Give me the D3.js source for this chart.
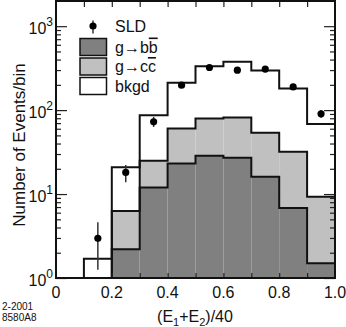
<!DOCTYPE html>
<html>
<head>
<meta charset="utf-8">
<script src="https://cdn.jsdelivr.net/npm/d3@7"></script>
<style>
  html, body { margin: 0; padding: 0; background: #fff; }
  svg { display: block; font-family: "Liberation Sans", Arial, Helvetica, sans-serif; }
</style>
</head>
<body>
<svg id="chart" width="346" height="327"></svg>
<script>
// ---- data ----
const binEdges = [0.1, 0.2, 0.3, 0.4, 0.5, 0.6, 0.7, 0.8, 0.9, 1.0];
const bbValues   = [0, 2.2, 12.0, 23.2, 28.6, 27.1, 16.1, 6.8, 1.5];
const ccValues   = [0, 4.1, 12.9, 37.3, 51.1, 54.8, 37.6, 25.1, 7.8];
const bkgdValues = [1.7, 14.5, 62, 152, 254, 294, 243, 149, 59];

const sldX    = [0.15, 0.25, 0.35, 0.45, 0.55, 0.65, 0.75, 0.85, 0.95];
const sldY    = [2.97, 18.1, 72.6, 198, 322, 299, 308, 189, 90.4];
const sldLow  = [1.25, 13.8, 63, 184, 304, 282, 291, 175, 81];
const sldHigh = [4.6, 22.2, 83, 212, 340, 316, 325, 203, 100];

const xTickLabels = ["0", "0.2", "0.4", "0.6", "0.8", "1.0"];
const xTickValues = [0, 0.2, 0.4, 0.6, 0.8, 1.0];
const yDecades = [1, 10, 100, 1000];
const yDecadeExp = ["0", "1", "2", "3"];

// legend: [main text, overlined part]
const legendLabels = [["SLD", ""], ["g\u2192b", "b"], ["g\u2192c", "c"], ["bkgd", ""]];

// ---- layout ----
const svg = d3.select("#chart");
const L = 56, R = 335, T = 1, B = 278;
const x = d3.scaleLinear().domain([0, 1]).range([L, R]);
const y = d3.scaleLog().domain([1, 10 ** 3.3]).range([B, T]);
const yc = v => y(Math.max(v, 1));

const colBB = "#808080", colCC = "#c0c0c0", colBK = "#ffffff";

// stack
const rows = bbValues.map((d, i) => ({ i, bb: bbValues[i], cc: ccValues[i], bk: bkgdValues[i] }));
const stack = d3.stack().keys(["bb", "cc", "bk"])(rows);
const colors = { bb: colBB, cc: colCC, bk: colBK };

const g = svg.append("g");
stack.forEach(layer => {
  g.append("g").selectAll("rect").data(layer).join("rect")
    .attr("x", (d, i) => x(binEdges[i]))
    .attr("width", (d, i) => x(binEdges[i + 1]) - x(binEdges[i]))
    .attr("y", d => yc(d[1]))
    .attr("height", d => yc(d[0]) - yc(d[1]))
    .attr("fill", colors[layer.key]);
});

// step outlines
const line = d3.line();
stack.forEach(layer => {
  const pts = [[x(binEdges[0]), B]];
  layer.forEach((d, i) => {
    pts.push([x(binEdges[i]), yc(d[1])]);
    pts.push([x(binEdges[i + 1]), yc(d[1])]);
  });
  pts.push([x(binEdges[binEdges.length - 1]), B]);
  g.append("path").attr("d", line(pts))
    .attr("fill", "none").attr("stroke", "#111").attr("stroke-width", 2)
    .attr("stroke-linejoin", "miter");
});

// axes ticks (inward)
const minorY = [];
[1, 10, 100, 1000].forEach(dec => { for (let k = 2; k <= 9; k++) { const v = dec * k; if (v <= 10 ** 3.3) minorY.push(v); } });
const xTicksAll = d3.range(0, 11).map(i => i / 10);

function tickStyle(sel) {
  sel.select(".domain").remove();
  sel.selectAll("line").attr("stroke", "#222").attr("stroke-width", 1.2);
  sel.selectAll("text").remove();
}
svg.append("g").attr("transform", `translate(${L},0)`)
  .call(d3.axisLeft(y).tickValues(yDecades).tickSize(-11)).call(tickStyle);
svg.append("g").attr("transform", `translate(${L},0)`)
  .call(d3.axisLeft(y).tickValues(minorY).tickSize(-5)).call(tickStyle);
svg.append("g").attr("transform", `translate(${R},0)`)
  .call(d3.axisRight(y).tickValues(yDecades).tickSize(-11)).call(tickStyle);
svg.append("g").attr("transform", `translate(${R},0)`)
  .call(d3.axisRight(y).tickValues(minorY).tickSize(-5)).call(tickStyle);
svg.append("g").attr("transform", `translate(0,${B})`)
  .call(d3.axisBottom(x).tickValues(xTicksAll.slice(1, 10)).tickSize(-5)).call(tickStyle);
svg.append("g").attr("transform", `translate(0,${T})`)
  .call(d3.axisTop(x).tickValues(xTicksAll.slice(1, 10)).tickSize(-6)).call(tickStyle);

// frame
svg.append("rect").attr("x", L).attr("y", T).attr("width", R - L).attr("height", B - T)
  .attr("fill", "none").attr("stroke", "#111").attr("stroke-width", 2);

// x tick labels
svg.append("g").selectAll("text").data(xTickValues).join("text")
  .attr("x", d => x(d)).attr("y", 298)
  .attr("text-anchor", "middle").attr("font-size", 16).attr("fill", "#111")
  .text((d, i) => xTickLabels[i]);

// y tick labels
const yl = svg.append("g").selectAll("text").data(yDecades).join("text")
  .attr("x", 53).attr("y", d => y(d) + 8)
  .attr("text-anchor", "end").attr("font-size", 16).attr("fill", "#111");
yl.append("tspan").text("10");
yl.append("tspan").attr("dy", -8).attr("font-size", 12).text((d, i) => yDecadeExp[i]);

// SLD points with error bars
const pts = svg.append("g");
pts.selectAll("line").data(sldX).join("line")
  .attr("x1", d => x(d)).attr("x2", d => x(d))
  .attr("y1", (d, i) => yc(sldLow[i])).attr("y2", (d, i) => y(sldHigh[i]))
  .attr("stroke", "#333").attr("stroke-width", 1.5);
pts.selectAll("circle").data(sldX).join("circle")
  .attr("cx", d => x(d)).attr("cy", (d, i) => y(sldY[i])).attr("r", 3.6).attr("fill", "#000");

// legend
const lg = svg.append("g").attr("font-size", 16).attr("fill", "#111");
lg.append("line").attr("x1", 93).attr("x2", 93).attr("y1", 20.5).attr("y2", 33.5)
  .attr("stroke", "#333").attr("stroke-width", 1.5);
lg.append("circle").attr("cx", 93).attr("cy", 26).attr("r", 3.6).attr("fill", "#000");
lg.append("text").attr("x", 115).attr("y", 32).text(legendLabels[0][0]);
const boxColors = [colBB, colCC, colBK];
const boxY = [38.5, 58, 77.5];
boxY.forEach((by, i) => {
  lg.append("rect").attr("x", 80).attr("y", by).attr("width", 26.5).attr("height", 17)
    .attr("fill", boxColors[i]).attr("stroke", "#111").attr("stroke-width", 1.5);
  const t = lg.append("text").attr("x", 115).attr("y", by + 14);
  t.append("tspan").text(legendLabels[i + 1][0]);
  if (legendLabels[i + 1][1]) t.append("tspan").attr("text-decoration", "overline").text(legendLabels[i + 1][1]);
});

// axis titles
const xt = svg.append("text").attr("x", 195).attr("y", 322).attr("text-anchor", "middle")
  .attr("font-size", 16).attr("fill", "#111");
xt.append("tspan").text("(E");
xt.append("tspan").attr("font-size", 11).attr("dy", 4).text("1");
xt.append("tspan").attr("dy", -4).text("+E");
xt.append("tspan").attr("font-size", 11).attr("dy", 4).text("2");
xt.append("tspan").attr("dy", -4).text(")/40");

svg.append("text").attr("transform", "translate(25,145) rotate(-90)")
  .attr("text-anchor", "middle").attr("font-size", 17).attr("fill", "#111")
  .text("Number of Events/bin");

svg.append("text").attr("x", 2).attr("y", 310).attr("font-size", 10).attr("fill", "#111").text("2-2001");
svg.append("text").attr("x", 2).attr("y", 321).attr("font-size", 10).attr("fill", "#111").text("8580A8");
</script>
</body>
</html>
